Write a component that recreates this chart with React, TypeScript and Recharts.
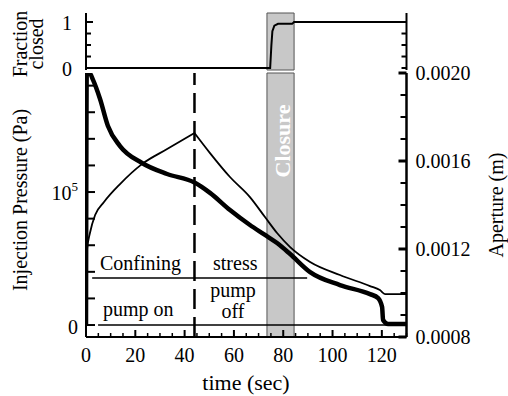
import React from 'react';
import { ComposedChart, Line, XAxis, YAxis, ReferenceArea, ReferenceLine } from 'recharts';

const FONT = "'Liberation Serif', 'Tinos', 'DejaVu Serif', 'Times New Roman', Times, serif";

// time axis (sec)
const timeTicks = [0, 5, 10, 15, 20, 25, 30, 35, 40, 45, 50, 55, 60, 65, 70, 75, 80, 85, 90, 95, 100, 105, 110, 115, 120, 125, 130];
const timeLabels = [0, 20, 40, 60, 80, 100, 120];

// left axis: injection pressure (Pa)
const pressureTicks = [0, 20000, 40000, 60000, 80000, 100000, 120000, 140000, 160000, 180000];
// right axis: aperture (m)
const apertureTicks = [0.0008, 0.0009, 0.001, 0.0011, 0.0012, 0.0013, 0.0014, 0.0015, 0.0016, 0.0017, 0.0018, 0.0019, 0.002];
const apertureLabels = ['0.0008', '0.0012', '0.0016', '0.0020'];
// top panel
const fractionTicks = [0, 0.25, 0.5, 0.75, 1];

// pressure while pumping
const riseTime = [0, 0.4, 1.6, 3.7, 7.3, 13.8, 22.7, 32.9, 44];
const risePa = [0, 56400, 69200, 82700, 92500, 106000, 121000, 132300, 144400];
// pressure after pump off
const fallTime = [44, 50.3, 58.4, 66.5, 72.6, 77.5, 82.8, 90.9, 103, 115.2, 119.2, 121.3, 130];
const fallPa = [144400, 129300, 111300, 96200, 81200, 69200, 58600, 47400, 37600, 29300, 26300, 23300, 23300];

// aperture (thick line)
const apTime = [0, 0.3, 1.4, 2.8, 5.7, 8.9, 13.8, 22.7, 32.9, 44, 50.3, 58.4, 66.5, 72.6, 77.5, 82.8, 90.9, 103, 115.2, 118.5, 120.1, 120.5, 122.5, 130];
const apM = [0.000855, 0.002, 0.002, 0.00197, 0.001882, 0.001759, 0.001668, 0.001591, 0.001541, 0.001502, 0.001455, 0.001377, 0.001309, 0.001264, 0.001227, 0.001177, 0.001095, 0.001036, 0.000995, 0.000977, 0.000936, 0.000877, 0.000859, 0.000859];

// fraction closed
const fracTime = [0, 74.7, 75.2, 75.6, 76.4, 77.9, 83.6, 84.4, 130];
const fracVal = [0, 0, 0.5, 0.8, 0.92, 0.96, 0.96, 1, 1];

// confining stress + zero level
const confTime = [2.5, 89.7];
const confPa = [35300, 35300];
const zeroTime = [4.9, 130];
const zeroPa = [0, 0];

const pumpOff = 44;
const closureStart = 73.4;
const closureEnd = 84.4;

const zip = (ts: number[], vs: number[]) => ts.map((t, i) => ({ t, v: vs[i] }));

const riseData = zip(riseTime, risePa);
const fallData = zip(fallTime, fallPa);
const apData = zip(apTime, apM);
const fracData = zip(fracTime, fracVal);
const confData = zip(confTime, confPa);
const zeroData = zip(zeroTime, zeroPa);

const T = (props: any) => <text fontFamily={FONT} fill="#000" fontSize={20} {...props} />;

const BottomTimeTick = (p: any) => {
  const major = timeLabels.includes(p.payload.value);
  return (
    <g>
      <line x1={p.x} x2={p.x} y1={p.y} y2={p.y - (major ? 7 : 4)} stroke="#000" strokeWidth={major ? 2 : 1.5} />
      {major && (
        <T x={p.x} y={p.y + 25} textAnchor="middle">
          {p.payload.value}
        </T>
      )}
    </g>
  );
};

const TopTimeTick = (p: any) => {
  const major = timeLabels.includes(p.payload.value);
  return <line x1={p.x} x2={p.x} y1={p.y} y2={p.y + (major ? 7 : 4)} stroke="#000" strokeWidth={major ? 2 : 1.5} />;
};

const PressureTick = (p: any) => {
  const v = p.payload.value;
  return (
    <g>
      <line x1={p.x} x2={p.x + 9} y1={p.y} y2={p.y} stroke="#000" strokeWidth={2} />
      {v === 0 && (
        <T x={p.x - 8} y={p.y + 9} textAnchor="end">0</T>
      )}
      {v === 100000 && (
        <T x={p.x - 8} y={p.y + 8} textAnchor="end">
          10<tspan dy={-9} fontSize={13}>5</tspan>
        </T>
      )}
    </g>
  );
};

const ApertureTick = (p: any) => {
  const label = apertureLabels.find((s) => Math.abs(parseFloat(s) - p.payload.value) < 1e-9);
  return (
    <g>
      <line x1={p.x} x2={p.x - (label ? 8 : 6)} y1={p.y} y2={p.y} stroke="#000" strokeWidth={label ? 3 : 2} />
      {label && (
        <T x={p.x + 9} y={p.y + 7} textAnchor="start">{label}</T>
      )}
    </g>
  );
};

const FracLeftTick = (p: any) => {
  const v = p.payload.value;
  const major = v === 0 || v === 1;
  return (
    <g>
      <line x1={p.x} x2={p.x + (major ? 7 : 5)} y1={p.y} y2={p.y} stroke="#000" strokeWidth={2} />
      {major && (
        <T x={p.x - 14} y={p.y + 8} textAnchor="end">{v}</T>
      )}
    </g>
  );
};

const FracRightTick = (p: any) => (
  <line x1={p.x} x2={p.x - 5} y1={p.y} y2={p.y} stroke="#000" strokeWidth={2} />
);

const axisLine = { stroke: '#000', strokeWidth: 2 };

export default function App() {
  return (
    <div style={{ position: 'absolute', left: 0, top: 0, width: 508, height: 396, background: '#fff', fontFamily: FONT }}>
      <div style={{ position: 'absolute', left: 0, top: 0 }}>
        <ComposedChart width={508} height={80} margin={{ top: 13, right: 41.5, bottom: 10, left: 36 }}>
          <XAxis xAxisId="b" dataKey="t" type="number" domain={[0, 130]} allowDataOverflow orientation="bottom" height={0} tick={false} tickLine={false} axisLine={axisLine} />
          <XAxis xAxisId="t" dataKey="t" type="number" domain={[0, 130]} allowDataOverflow orientation="top" height={0} tick={false} tickLine={false} axisLine={axisLine} />
          <YAxis yAxisId="l" type="number" domain={[-0.043, 1.196]} allowDataOverflow ticks={fractionTicks} interval={0} width={50} tickSize={0} tickMargin={0} tickLine={false} axisLine={axisLine} tick={FracLeftTick} />
          <YAxis yAxisId="r" orientation="right" type="number" domain={[-0.043, 1.196]} allowDataOverflow ticks={fractionTicks} interval={0} width={60} tickSize={0} tickMargin={0} tickLine={false} axisLine={axisLine} tick={FracRightTick} />
          <ReferenceArea xAxisId="b" yAxisId="l" x1={closureStart} x2={closureEnd} fill="#c8c8c8" fillOpacity={1} stroke="#555" strokeWidth={1} />
          <Line xAxisId="b" yAxisId="l" data={fracData} dataKey="v" type="linear" stroke="#000" strokeWidth={2} dot={false} isAnimationActive={false} />
        </ComposedChart>
      </div>
      <div style={{ position: 'absolute', left: 0, top: 0 }}>
        <ComposedChart width={508} height={396} margin={{ top: 73, right: 41.5, bottom: 29, left: 36 }}>
          <XAxis xAxisId="b" dataKey="t" type="number" domain={[0, 130]} allowDataOverflow ticks={timeTicks} interval={0} height={30} tickSize={0} tickMargin={0} tickLine={false} axisLine={axisLine} tick={BottomTimeTick} />
          <XAxis xAxisId="t" dataKey="t" type="number" domain={[0, 130]} allowDataOverflow orientation="top" ticks={timeTicks} interval={0} height={0} tickSize={0} tickMargin={0} tickLine={false} axisLine={axisLine} tick={TopTimeTick} />
          <YAxis yAxisId="p" type="number" domain={[-9000, 189500]} allowDataOverflow ticks={pressureTicks} interval={0} width={50} tickSize={0} tickMargin={0} tickLine={false} axisLine={axisLine} tick={PressureTick} />
          <YAxis yAxisId="a" orientation="right" type="number" domain={[0.0008, 0.002]} allowDataOverflow ticks={apertureTicks} interval={0} width={60} tickSize={0} tickMargin={0} tickLine={false} axisLine={{ stroke: '#000', strokeWidth: 2.5 }} tick={ApertureTick} />
          <ReferenceArea xAxisId="b" yAxisId="p" x1={closureStart} x2={closureEnd} fill="#c8c8c8" fillOpacity={1} stroke="#555" strokeWidth={1} />
          <ReferenceLine xAxisId="b" yAxisId="p" x={pumpOff} stroke="#000" strokeWidth={2.5} strokeDasharray="20 8" />
          <Line xAxisId="b" yAxisId="p" data={confData} dataKey="v" type="linear" stroke="#000" strokeWidth={1.5} dot={false} isAnimationActive={false} />
          <Line xAxisId="b" yAxisId="p" data={zeroData} dataKey="v" type="linear" stroke="#000" strokeWidth={1.5} dot={false} isAnimationActive={false} />
          <Line xAxisId="b" yAxisId="p" data={riseData} dataKey="v" type="monotone" stroke="#000" strokeWidth={1.8} dot={false} isAnimationActive={false} />
          <Line xAxisId="b" yAxisId="p" data={fallData} dataKey="v" type="monotone" stroke="#000" strokeWidth={1.8} dot={false} isAnimationActive={false} />
          <Line xAxisId="b" yAxisId="a" data={apData} dataKey="v" type="monotone" stroke="#000" strokeWidth={4.5} dot={false} isAnimationActive={false} />
        </ComposedChart>
      </div>
      <svg width={508} height={396} style={{ position: 'absolute', left: 0, top: 0, pointerEvents: 'none' }}>
        <T transform="translate(27,44) rotate(-90)" textAnchor="middle">Fraction</T>
        <T transform="translate(43,44) rotate(-90)" textAnchor="middle">closed</T>
        <T transform="translate(27,200) rotate(-90)" textAnchor="middle">Injection Pressure (Pa)</T>
        <T transform="translate(503,205) rotate(-90)" textAnchor="middle">Aperture (m)</T>
        <T x={246} y={390} textAnchor="middle" fontSize={22}>time (sec)</T>
        <T x={100} y={270}>Confining</T>
        <T x={213} y={270}>stress</T>
        <T x={103} y={316}>pump on</T>
        <T x={233} y={297} textAnchor="middle">pump</T>
        <T x={233} y={318} textAnchor="middle">off</T>
        <T transform="translate(290,141) rotate(-90)" textAnchor="middle" fontSize={22} fontWeight="bold" fill="#fff">Closure</T>
      </svg>
    </div>
  );
}
